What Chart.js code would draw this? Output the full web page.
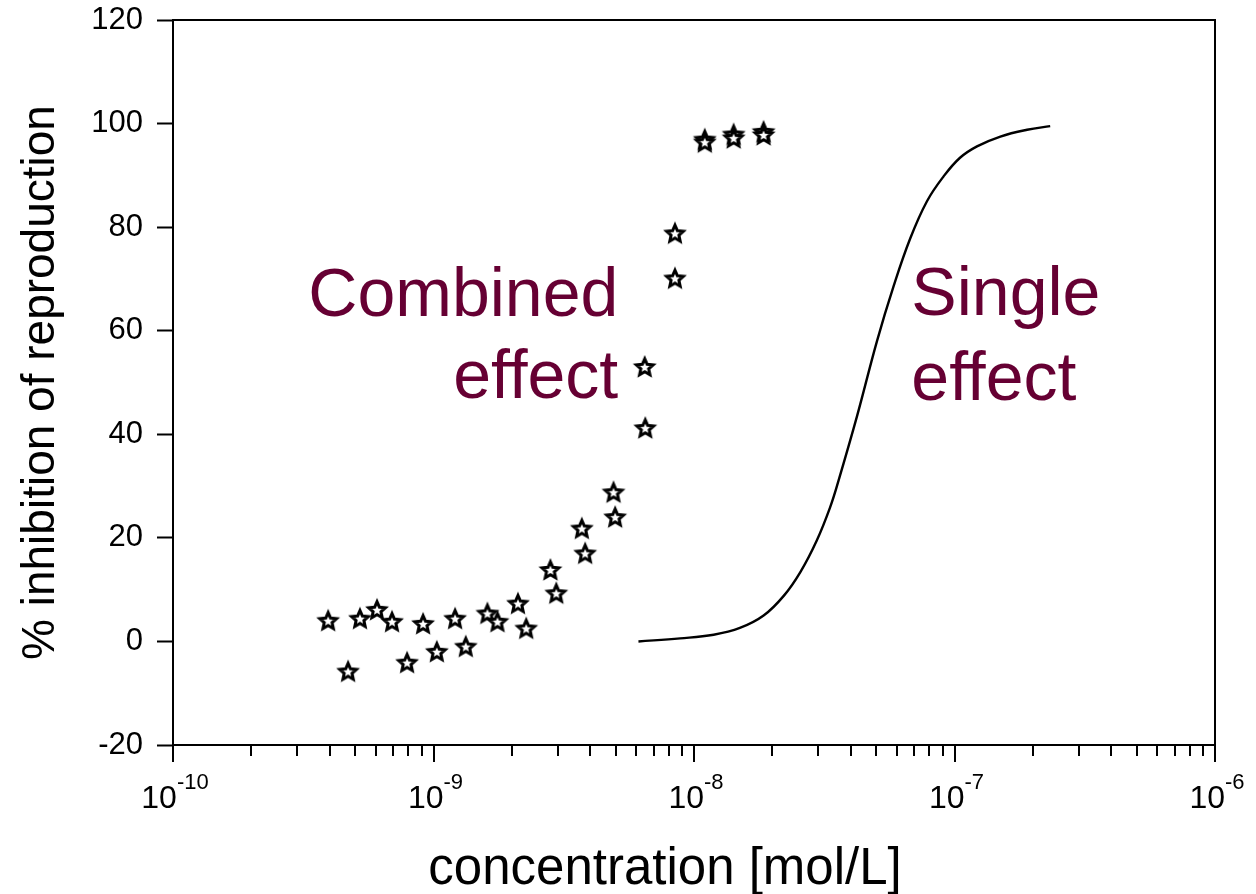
<!DOCTYPE html>
<html>
<head>
<meta charset="utf-8">
<script src="https://cdn.jsdelivr.net/npm/chart.js@4/dist/chart.umd.min.js"></script>
<style>
  html, body { margin: 0; padding: 0; background: #fff; }
  canvas { display: block; }
</style>
</head>
<body>
<canvas id="chart" width="1256" height="894"></canvas>
<script>
// combined effect measurements (stars)
var comboX = [3.94e-10, 4.70e-10, 5.22e-10, 6.07e-10, 6.93e-10, 7.92e-10, 9.12e-10, 1.03e-9,
  1.21e-9, 1.33e-9, 1.61e-9, 1.76e-9, 2.11e-9, 2.27e-9, 2.81e-9, 2.96e-9, 3.71e-9, 3.82e-9,
  4.91e-9, 4.98e-9, 6.47e-9, 6.50e-9, 8.45e-9, 8.45e-9, 1.10e-8, 1.10e-8, 1.42e-8, 1.42e-8,
  1.85e-8, 1.85e-8];
var comboY = [4.0, -5.8, 4.4, 6.1, 3.8, -4.1, 3.4, -2.0,
  4.4, -1.0, 5.4, 3.8, 7.3, 2.5, 13.8, 9.3, 21.8, 17.0,
  28.8, 24.0, 53.0, 41.2, 78.8, 70.1, 96.9, 96.4, 97.9, 97.2,
  98.4, 97.8];

// single effect curve
var singleX = [6.12e-9, 8.85e-9, 1.19e-8, 1.50e-8, 1.85e-8, 2.21e-8, 2.56e-8, 2.96e-8, 3.33e-8,
  3.59e-8, 4.22e-8, 5.04e-8, 5.83e-8, 6.76e-8, 7.84e-8, 9.08e-8, 1.05e-7, 1.22e-7, 1.50e-7,
  1.90e-7, 2.33e-7];
var singleY = [0, 0.6, 1.3, 2.6, 5.0, 8.8, 13.4, 19.5, 25.9,
  31.1, 43.4, 58.0, 68.5, 77.8, 85.0, 89.8, 93.4, 95.6, 97.5,
  98.8, 99.5];

// axes
var xMajorTicks = [1e-10, 1e-9, 1e-8, 1e-7, 1e-6];
var xTickExps = ["-10", "-9", "-8", "-7", "-6"];
var xMinorSteps = [2, 3, 4, 5, 6, 7, 8, 9];
var yTicks = [-20, 0, 20, 40, 60, 80, 100, 120];

var FONT = "'Liberation Sans', Arial, sans-serif";
var MAROON = "#660033";

// text labels inside the plot: anchor in data units
var notes = [
  { lines: ["Combined", "effect"], x: 5.12e-9, y: [62.8, 47.0], align: "right" },
  { lines: ["Single", "effect"], x: 6.83e-8, y: [63.0, 46.6], align: "left" }
];

function makeStar() {
  var c = document.createElement("canvas");
  c.width = 26;
  c.height = 26;
  var g = c.getContext("2d");
  g.beginPath();
  for (var i = 0; i < 10; i++) {
    var r = i % 2 === 0 ? 8.8 : 4.1;
    var a = -Math.PI / 2 + i * Math.PI / 5;
    var px = 13 + r * Math.cos(a), py = 13.6 + r * Math.sin(a);
    if (i === 0) g.moveTo(px, py); else g.lineTo(px, py);
  }
  g.closePath();
  g.fillStyle = "#fff";
  g.fill();
  g.lineWidth = 3;
  g.lineJoin = "miter";
  g.strokeStyle = "#000";
  g.stroke();
  return c;
}

var decorPlugin = {
  id: "decor",
  afterDraw: function(chart) {
    var ctx = chart.ctx;
    var area = chart.chartArea;
    var xs = chart.scales.x;
    var ys = chart.scales.y;
    ctx.save();
    ctx.strokeStyle = "#000";
    ctx.lineWidth = 2;
    // frame
    ctx.beginPath();
    ctx.moveTo(area.left, area.top);
    ctx.lineTo(area.right, area.top);
    ctx.lineTo(area.right, area.bottom);
    ctx.lineTo(area.left, area.bottom);
    ctx.stroke();

    // x ticks
    ctx.beginPath();
    xMajorTicks.forEach(function(v, i) {
      var px = Math.round(xs.getPixelForValue(v));
      ctx.moveTo(px, area.bottom);
      ctx.lineTo(px, area.bottom + 17);
      if (i < xMajorTicks.length - 1) {
        xMinorSteps.forEach(function(m) {
          var mx = Math.round(xs.getPixelForValue(v * m));
          ctx.moveTo(mx, area.bottom);
          ctx.lineTo(mx, area.bottom + 11);
        });
      }
    });
    ctx.stroke();

    // x tick labels 10^n
    ctx.fillStyle = "#000";
    ctx.textBaseline = "alphabetic";
    xMajorTicks.forEach(function(v, i) {
      var px = xs.getPixelForValue(v);
      ctx.font = "32px " + FONT;
      var w1 = ctx.measureText("10").width;
      ctx.font = "22px " + FONT;
      var w2 = ctx.measureText(xTickExps[i]).width;
      var start = px - (w1 + w2) / 2 + 2;
      ctx.font = "32px " + FONT;
      ctx.textAlign = "left";
      ctx.fillText("10", start, area.bottom + 63);
      ctx.font = "22px " + FONT;
      ctx.fillText(xTickExps[i], start + w1, area.bottom + 44);
    });

    // x title
    ctx.font = "51px " + FONT;
    ctx.textAlign = "center";
    ctx.fillText("concentration [mol/L]", (area.left + area.right) / 2 - 29, area.bottom + 139);

    // annotations
    ctx.fillStyle = MAROON;
    ctx.font = "68px " + FONT;
    notes.forEach(function(n) {
      ctx.textAlign = n.align;
      var px = xs.getPixelForValue(n.x);
      n.lines.forEach(function(t, k) {
        ctx.fillText(t, px, ys.getPixelForValue(n.y[k]));
      });
    });
    ctx.restore();
  }
};

var ctx = document.getElementById("chart");
var myChart = new Chart(ctx, {
  type: "scatter",
  data: {
    datasets: [
      {
        label: "Single effect",
        type: "line",
        data: singleX.map(function(x, i) { return { x: x, y: singleY[i] }; }),
        borderColor: "#000",
        borderWidth: 2.4,
        pointRadius: 0,
        fill: false,
        tension: 0.4
      },
      {
        label: "Combined effect",
        data: comboX.map(function(x, i) { return { x: x, y: comboY[i] }; }),
        pointStyle: makeStar(),
        pointRadius: 10
      }
    ]
  },
  options: {
    responsive: false,
    animation: false,
    devicePixelRatio: 1,
    layout: { padding: { top: 20, right: 41, left: 0, bottom: 0 } },
    plugins: {
      legend: { display: false },
      tooltip: { enabled: false }
    },
    scales: {
      x: {
        type: "logarithmic",
        min: 1e-10,
        max: 1e-6,
        grid: { display: false },
        border: { display: false },
        ticks: { display: false },
        afterFit: function(scale) {
          scale.height = 149;
          scale.paddingLeft = 0;
          scale.paddingRight = 0;
        }
      },
      y: {
        type: "linear",
        min: -20,
        max: 120,
        afterBuildTicks: function(scale) {
          scale.ticks = yTicks.map(function(v) { return { value: v }; });
        },
        grid: {
          drawOnChartArea: false,
          tickLength: 16,
          tickWidth: 2,
          color: "#000"
        },
        border: { display: true, color: "#000", width: 2 },
        ticks: {
          color: "#000",
          padding: 14,
          font: { family: FONT, size: 31 }
        },
        title: {
          display: true,
          text: "% inhibition of reproduction",
          color: "#000",
          font: { family: FONT, size: 46 },
          padding: { top: 14, bottom: 0 }
        },
        afterFit: function(scale) {
          scale.width = 173;
          scale.paddingTop = 0;
          scale.paddingBottom = 0;
        }
      }
    }
  },
  plugins: [decorPlugin]
});
</script>
</body>
</html>
